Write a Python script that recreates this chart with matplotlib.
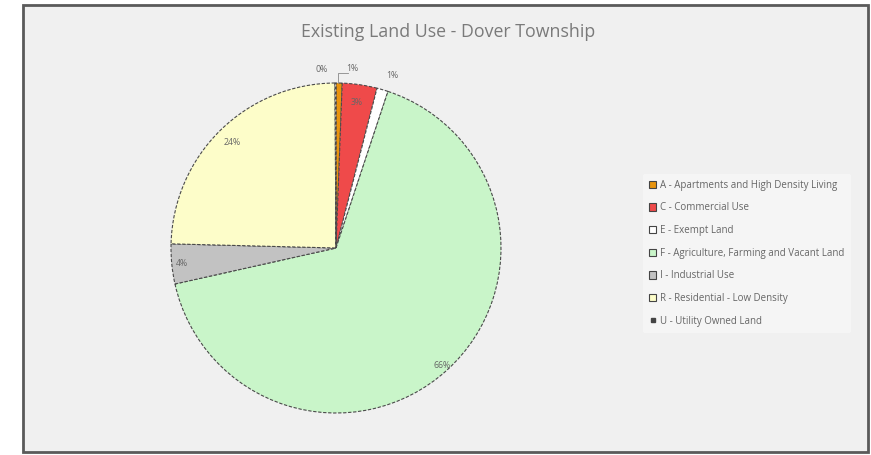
import matplotlib
matplotlib.use("Agg")
import matplotlib.pyplot as plt
from matplotlib.patches import Rectangle, Patch
import numpy as np

title = "Existing Land Use - Dover Township"
categories = [
    "A - Apartments and High Density Living",
    "C - Commercial Use",
    "E - Exempt Land",
    "F - Agriculture, Farming and Vacant Land",
    "I - Industrial Use",
    "R - Residential - Low Density",
    "U - Utility Owned Land",
]
values = [0.6, 3.4, 1.1, 66.4, 3.9, 24.5, 0.1]
colors = ["#e8940e", "#ef4a4a", "#ffffff", "#c9f5c9", "#c2c2c2", "#fdfdc9", "#f5f5f5"]

plt.rcParams['font.family'] = ['Open Sans', 'DejaVu Sans']

fig = plt.figure(figsize=(8.71, 4.55), dpi=100)
fig.patch.set_facecolor("white")

bg = fig.add_axes([0, 0, 1, 1])
bg.set_xlim(0, 871); bg.set_ylim(455, 0); bg.axis("off")
bg.add_patch(Rectangle((23, 5), 845, 447, facecolor="#f0f0f0", edgecolor="#5a5a5a", linewidth=2))
bg.text(448, 32, title, ha="center", va="center", fontsize=12.8, color="#7a7a7a")

ax = fig.add_axes([(336-165)/871, (455-248-165)/455, 330/871, 330/455])
ax.set_facecolor("none")
wedges, texts, autotexts = ax.pie(values, colors=colors, startangle=90, counterclock=False,
                                  autopct="%.0f%%", pctdistance=0.9,
                                  wedgeprops=dict(edgecolor="#4a4a4a", linewidth=0.8, linestyle=(0, (3, 1.5))),
                                  textprops=dict(fontsize=6.3, color="#666666"))
ax.set_aspect("equal")
ax.set_xlim(-1, 1)
ax.set_ylim(-1, 1)

for i, t in enumerate(autotexts):
    w = wedges[i]
    mid = np.deg2rad((w.theta1 + w.theta2) / 2)
    if i == 0:
        x, y = 0.10, 1.09
    elif i == 6:
        x, y = -0.09, 1.08
    elif i == 2:
        x, y = 1.07 * np.cos(mid) + 0.04, 1.07 * np.sin(mid) + 0.02
    else:
        rr = {3: 0.96, 4: 0.94, 5: 0.9, 1: 0.89}.get(i, 0.9)
        x, y = rr * np.cos(mid), rr * np.sin(mid)
    t.set_position((x, y))
    t.set_ha("center"); t.set_va("center")

ax.plot([0.012, 0.012, 0.07], [1.0, 1.06, 1.06], color="#888888", lw=0.6, clip_on=False)

handles = [Patch(facecolor=c, edgecolor="#444444", linewidth=0.8) for c in colors]
handles[-1] = plt.Line2D([], [], marker="s", markersize=2.5, color="#444444", linestyle="none")
leg = fig.legend(handles, categories, loc="upper left", bbox_to_anchor=(638/871, 1-169/455),
                 frameon=True, fontsize=7.0, labelcolor="#666666", handlelength=0.8, handleheight=0.8,
                 handletextpad=0.4, labelspacing=1.2, borderpad=0.6)
leg.get_frame().set_facecolor("#f7f7f7")
leg.get_frame().set_edgecolor("none")

fig.savefig("out.png", dpi=100)
